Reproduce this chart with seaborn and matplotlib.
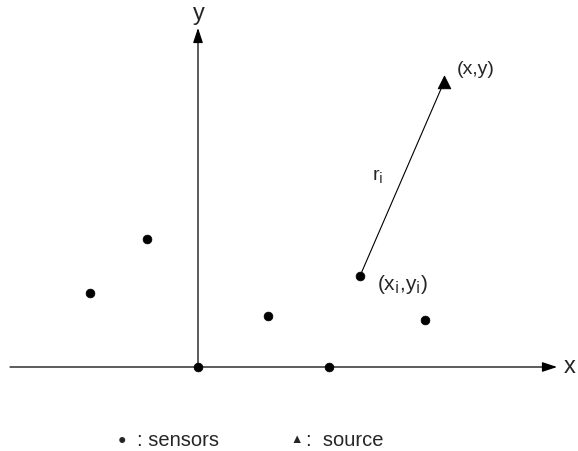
import pandas as pd
import seaborn as sns
import matplotlib.pyplot as plt

sns.set_style("white")
plt.rcParams['font.family'] = ['Liberation Sans', 'DejaVu Sans']

# sensor positions and the source (diagram units)
sensor_x = [-5.4, -2.55, 0.0, 3.5, 6.55, 8.1, 11.35]
sensor_y = [3.7, 6.4, 0.0, 2.55, 0.0, 4.55, 2.35]
source_x = [12.3]
source_y = [14.25]
sel = 5  # the sensor (x_i, y_i)

sensors = pd.DataFrame({'x': sensor_x, 'y': sensor_y})
source = pd.DataFrame({'x': source_x, 'y': source_y})

fig = plt.figure(figsize=(5.78, 4.51), dpi=100)
ax = fig.add_axes([0, 0, 1, 1])
ax.set_xlim(-9.9, 19.0)
ax.set_ylim(-4.2, 18.35)
ax.axis('off')

# axes with arrows
arr = dict(arrowstyle='-|>,head_length=0.9,head_width=0.3', color='black', lw=0.9,
           shrinkA=0, shrinkB=0)
ax.annotate('', xy=(17.95, 0), xytext=(-9.4, 0), arrowprops=arr)
ax.annotate('', xy=(0, 16.95), xytext=(0, 0), arrowprops=arr)
ax.text(18.6, 0, 'x', fontsize=17, ha='center', va='center')
ax.text(0.05, 17.65, 'y', fontsize=17, ha='center', va='center')

# line from sensor i to the source
ax.plot([sensor_x[sel], source_x[0]], [sensor_y[sel], source_y[0]], color='black', lw=0.8)

sns.scatterplot(data=sensors, x='x', y='y', color='black', s=40, edgecolor='black',
                ax=ax, zorder=3)
sns.scatterplot(data=source, x='x', y='y', color='black', marker='^', s=80,
                edgecolor='black', ax=ax, zorder=3)

ax.text(12.95, 14.85, '(x,y)', fontsize=14, va='center')
ax.text(9.0, 9.5, r'r$_\mathrm{i}$', fontsize=14, ha='center', va='center')
ax.text(8.95, 4.15, r'(x$_\mathrm{i}$,y$_\mathrm{i}$)', fontsize=15, va='center')

# legend drawn as text
ly = 1 - 440 / 451
fig.text(122 / 578, ly, '\u25cf', fontsize=10, ha='center', va='center')
fig.text(137 / 578, ly, ': sensors', fontsize=14.5, ha='left', va='center')
fig.text(297 / 578, ly, '\u25b2', fontsize=9, ha='center', va='center')
fig.text(306 / 578, ly, ':  source', fontsize=14.5, ha='left', va='center')

fig.savefig('out.png', dpi=100)
